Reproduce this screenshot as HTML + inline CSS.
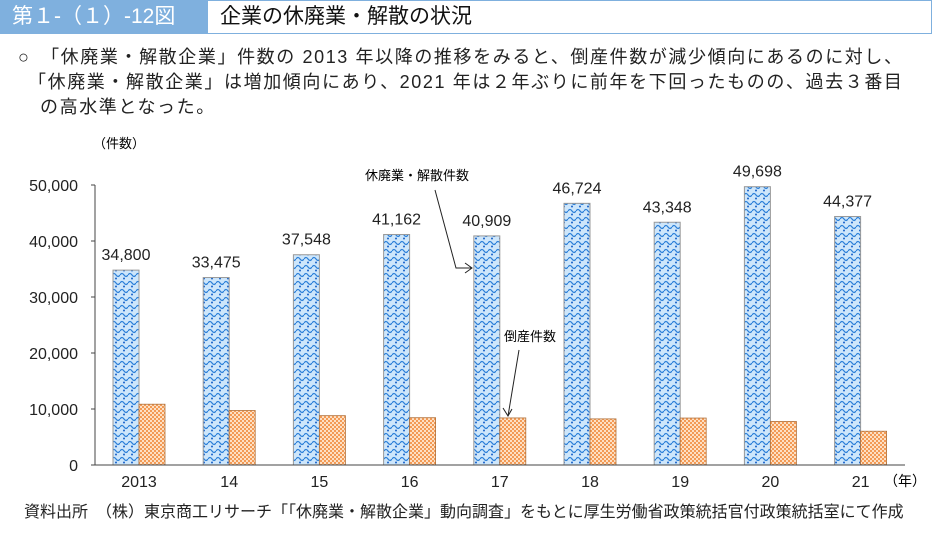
<!DOCTYPE html>
<html><head><meta charset="utf-8"><style>
body{margin:0;width:933px;height:536px;background:#fff;font-family:"Liberation Sans","Noto Sans CJK JP",sans-serif;color:#222;position:relative;overflow:hidden}
.a{position:absolute;white-space:nowrap}
</style></head><body>
<div class="a" style="left:0;top:0;width:207px;height:34px;background:#7fb0de;color:#fff;font-size:21px;line-height:34px;padding-left:12px;box-sizing:border-box">第１-（１）-12図</div>
<div class="a" style="left:207px;top:0;width:725px;height:34px;border:1.5px solid #7fb0de;box-sizing:border-box;font-size:21px;line-height:31px;padding-left:12px;color:#111">企業の休廃業・解散の状況</div>
<div class="a" style="left:18px;top:45px;font-size:18px;letter-spacing:1.6px;line-height:25px;white-space:nowrap">○　「休廃業・解散企業」件数の 2013 年以降の推移をみると、倒産件数が減少傾向にあるのに対し、<br><span style="padding-left:10px">「休廃業・解散企業」は増加傾向にあり、2021 年は２年ぶりに前年を下回ったものの、過去３番目</span><br><span style="padding-left:22px">の高水準となった。</span></div>
<svg class="a" style="left:0;top:0" width="933" height="536">
<defs>
<pattern id="wave" width="8" height="8" patternUnits="userSpaceOnUse"><rect width="8" height="8" fill="#cde6fb"/><path d="M0 3 Q2 0 4 3 T8 3" fill="none" stroke="#2b7fd8" stroke-width="1.2"/><circle cx="4" cy="6.5" r="1" fill="#1b63c8"/></pattern>
<pattern id="chk" width="4" height="4" patternUnits="userSpaceOnUse"><rect width="4" height="4" fill="#fde0c4"/><rect width="2" height="2" fill="#f39a55"/><rect x="2" y="2" width="2" height="2" fill="#f39a55"/></pattern>
</defs>
<g id="yaxis"></g><g id="bars"></g><g id="xaxis"></g>
<text x="93" y="148" font-size="13">（件数）</text>
<text x="884" y="486" font-size="14">（年）</text>
<text x="365" y="180" font-size="13">休廃業・解散件数</text>
<polyline points="435,190 456,268 472,268" fill="none" stroke="#222" stroke-width="1"/>
<polyline points="465,263 472,268 465,273" fill="none" stroke="#222" stroke-width="1"/>
<text x="504" y="341" font-size="13">倒産件数</text>
<line x1="519" y1="350" x2="508" y2="416" stroke="#222" stroke-width="1"/>
<polyline points="503,408 508,416 512,409" fill="none" stroke="#222" stroke-width="1"/>
</svg>
<div class="a" style="left:24px;top:498px;font-size:16px">資料出所　（株）東京商工リサーチ「｢休廃業・解散企業」動向調査」をもとに厚生労働省政策統括官付政策統括室にて作成</div>
<script>
const categories=["2013","14","15","16","17","18","19","20","21"];
const closures=[34800,33475,37548,41162,40909,46724,43348,49698,44377];
const closureLabels=["34,800","33,475","37,548","41,162","40,909","46,724","43,348","49,698","44,377"];
const bankruptcies=[10855,9731,8812,8446,8405,8235,8383,7773,6030];
const yTicks=[0,10000,20000,30000,40000,50000];
const yTickLabels=["0","10,000","20,000","30,000","40,000","50,000"];
const NS="http://www.w3.org/2000/svg";
const y=v=>465-v*280/50000;
const x=i=>139+i*90.2;
function mk(t,a,p,txt){const e=document.createElementNS(NS,t);for(const k in a)e.setAttribute(k,a[k]);if(txt!==undefined)e.textContent=txt;p.appendChild(e);return e;}
const ya=document.getElementById('yaxis'),bg=document.getElementById('bars'),xa=document.getElementById('xaxis');
mk('line',{x1:95,y1:185,x2:95,y2:465,stroke:'#444'},ya);
yTicks.forEach((v,i)=>{mk('line',{x1:91,y1:y(v),x2:95,y2:y(v),stroke:'#444'},ya);
const t=mk('text',{x:78,y:y(v)+6,'font-size':16,'text-anchor':'end',fill:'#222'},ya,yTickLabels[i]);

});
categories.forEach((c,i)=>{const cx=x(i);
const b=mk('rect',{x:cx-26,y:y(closures[i]),width:26,height:465-y(closures[i]),fill:'url(#wave)',stroke:'#999','stroke-width':1},bg);


const o=mk('rect',{x:cx,y:y(bankruptcies[i]),width:26,height:465-y(bankruptcies[i]),fill:'url(#chk)',stroke:'#b0703a','stroke-width':0.8},bg);


const l=mk('text',{x:cx-13,y:y(closures[i])-10,'font-size':16,'text-anchor':'middle',fill:'#222'},bg,closureLabels[i]);


const xl=mk('text',{x:cx,y:487,'font-size':16,'text-anchor':'middle',fill:'#222'},xa,c);


});
mk('line',{x1:95,y1:465,x2:905,y2:465,stroke:'#444'},xa);
</script>
</body></html>
